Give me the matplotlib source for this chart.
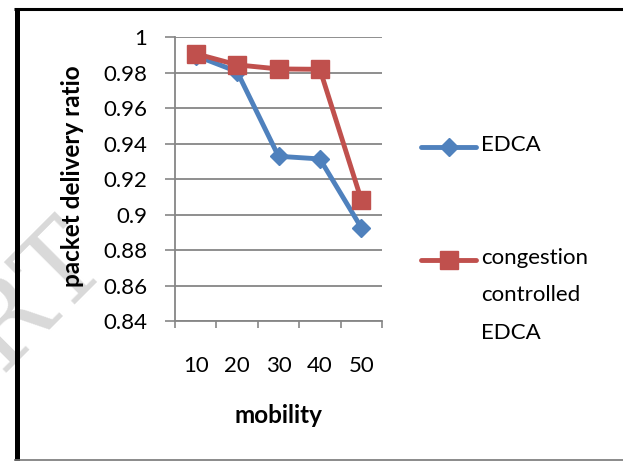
import matplotlib
matplotlib.use("Agg")
import matplotlib.pyplot as plt
from matplotlib.lines import Line2D

plt.rcParams["font.family"] = ["Lato", "DejaVu Sans"]

mobility = ["10", "20", "30", "40", "50"]
edca = [0.9895, 0.9805, 0.9328, 0.9313, 0.8926]
cc_edca = [0.9906, 0.9843, 0.9820, 0.9818, 0.9083]
y_ticks = [0.84, 0.86, 0.88, 0.90, 0.92, 0.94, 0.96, 0.98, 1.00]
y_tick_labels = ["0.84", "0.86", "0.88", "0.9", "0.92", "0.94", "0.96", "0.98", "1"]

blue = "#4F81BD"
red = "#C0504D"
grey = "#868686"

fig = plt.figure(figsize=(6.23, 4.61), dpi=100)
ax = fig.add_axes([175 / 623, 1 - 321 / 461, 207 / 623, 284 / 461])

x = list(range(len(mobility)))
ax.plot(x, edca, color=blue, lw=3.5, marker="D", ms=9.5, mew=1, mec=blue, zorder=3)
ax.plot(x, cc_edca, color=red, lw=3.5, marker="s", ms=13, mew=1, mec=red, zorder=4)

ax.set_xlim(-0.5, len(mobility) - 0.5)
ax.set_ylim(0.84, 1.0)

# y axis: gridlines every 0.02
ax.set_yticks(y_ticks)
ax.set_yticklabels(y_tick_labels, fontsize=16)
ax.tick_params(axis="y", length=7, width=1.2, color=grey, pad=13)
ax.grid(axis="y", color=grey, lw=1.3)
ax.set_axisbelow(True)

# x axis: ticks between categories, labels centred on them
ax.set_xticks([i - 0.5 for i in range(len(mobility) + 1)])
ax.set_xticklabels([])
ax.set_xticks(x, minor=True)
ax.set_xticklabels(mobility, minor=True, fontsize=16)
ax.tick_params(axis="x", which="major", length=5, width=1.2, color=grey, direction="out")
ax.tick_params(axis="x", which="minor", length=0, pad=25)

for side in ["top", "right"]:
    ax.spines[side].set_visible(False)
for side in ["left", "bottom"]:
    ax.spines[side].set_color(grey)
    ax.spines[side].set_linewidth(1.3)

fig.text(72 / 623, 1 - 176 / 461, "packet delivery ratio", rotation=90,
         ha="center", va="center", fontsize=17.5, fontweight="bold")
fig.text(278 / 623, 1 - 415 / 461, "mobility", ha="center", va="center",
         fontsize=17.5, fontweight="bold")

# legend drawn by hand so the marker lines up with the first text line
for ly, col, mk, ms, label in [(147, blue, "D", 9.5, "EDCA"),
                               (260, red, "s", 13, "congestion\ncontrolled\nEDCA")]:
    yf = 1 - ly / 461
    fig.add_artist(Line2D([421 / 623, 476 / 623], [yf, yf], transform=fig.transFigure,
                          color=col, lw=3.5, solid_capstyle="round"))
    fig.add_artist(Line2D([449 / 623], [yf], transform=fig.transFigure, color=col,
                          marker=mk, ms=ms, mew=1, mec=col))
    fig.text(481 / 623, yf + 12 / 461, label, ha="left", va="top", fontsize=16,
             linespacing=2.08)

# faint watermark
fig.text(112 / 623, 1 - 262 / 461, "IJERT", rotation=45, rotation_mode="anchor",
         ha="right", va="baseline", fontsize=80, family="DejaVu Serif",
         color="#d2d2d2", alpha=0.85, zorder=0)

# frame around the figure
fig.add_artist(Line2D([16.5 / 623, 16.5 / 623], [0, 1 - 8 / 461], transform=fig.transFigure,
                      color="black", lw=3.6, solid_capstyle="butt"))
fig.add_artist(Line2D([14 / 623, 1], [1 - 9.5 / 461, 1 - 9.5 / 461], transform=fig.transFigure,
                      color="black", lw=2.2, solid_capstyle="butt"))
fig.add_artist(Line2D([14 / 623, 1], [0.6 / 461, 0.6 / 461], transform=fig.transFigure,
                      color="#777777", lw=1.2, solid_capstyle="butt"))

fig.savefig("out.png", dpi=100)
